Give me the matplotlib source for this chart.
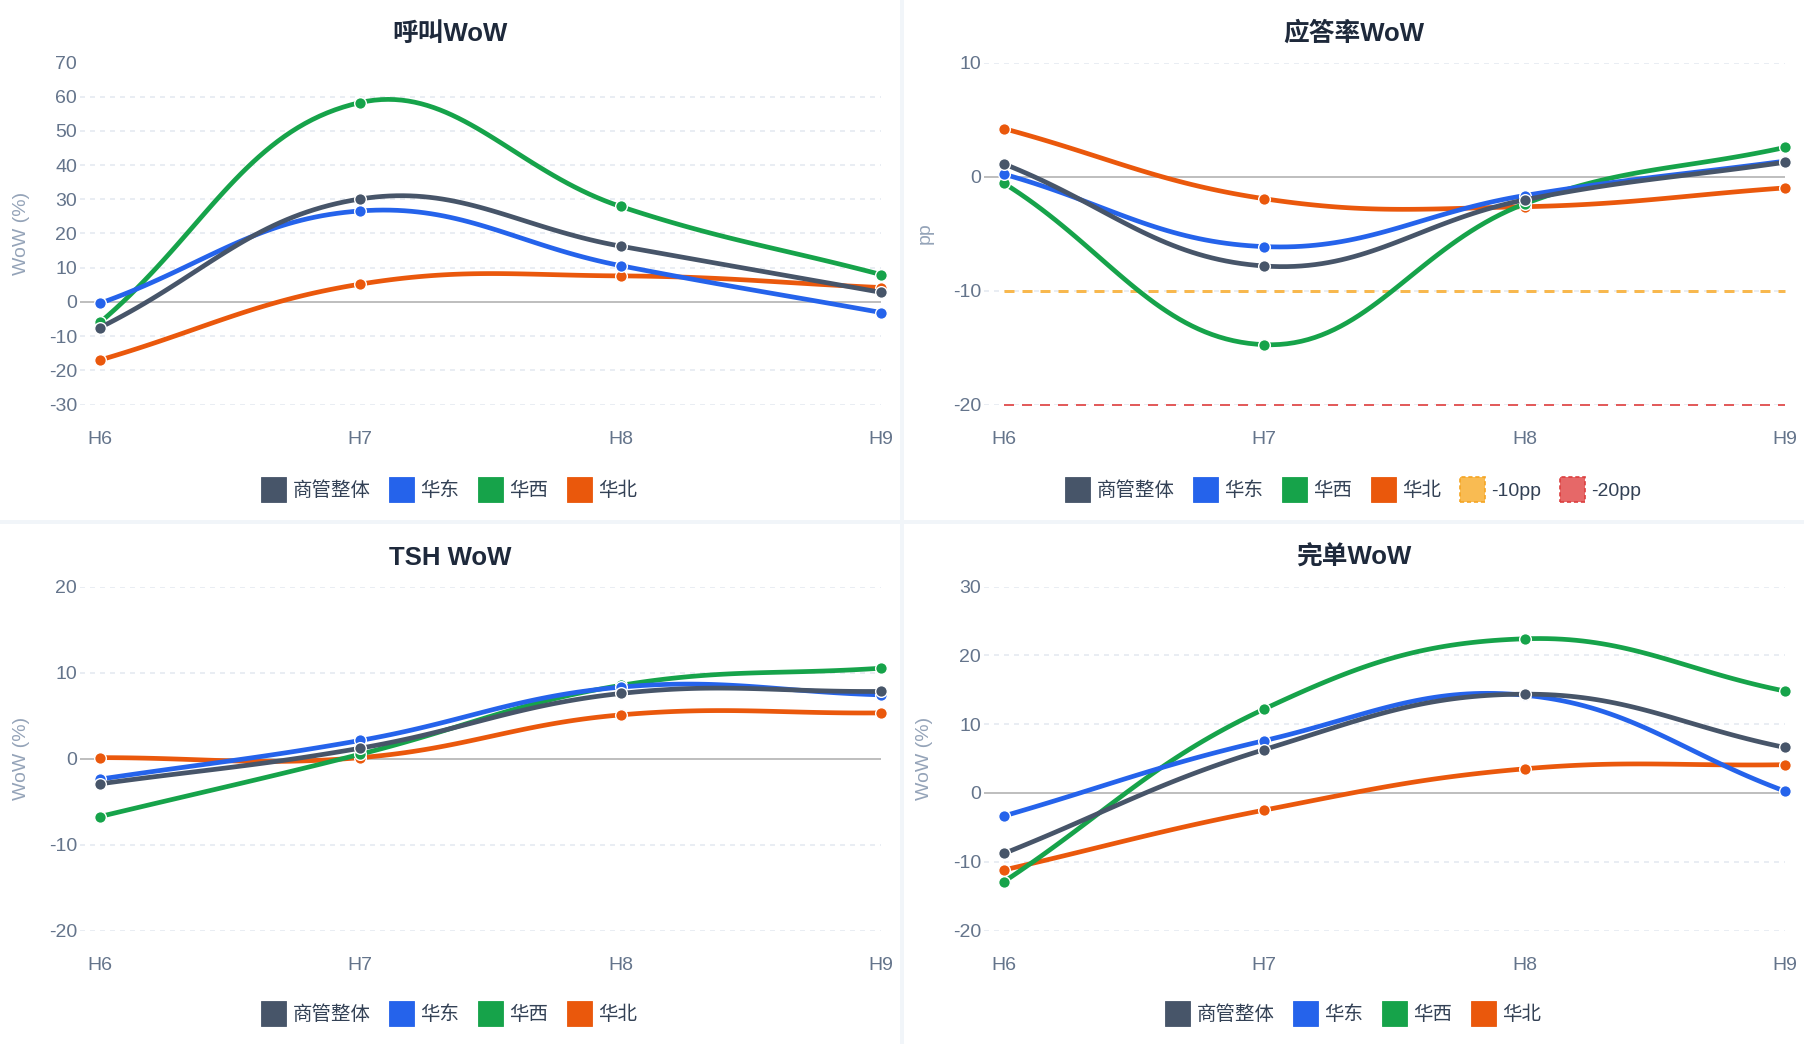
import matplotlib
matplotlib.use("Agg")
import matplotlib.pyplot as plt
from matplotlib.patches import Rectangle
import numpy as np

# ---- data ----
periods = ["H6", "H7", "H8", "H9"]
regions = ["商管整体", "华东", "华西", "华北"]
region_colors = ["#475569", "#2563eb", "#16a34a", "#ea580c"]

# 呼叫WoW (%)
call_wow = [
    [-7.5, 30.1, 16.3, 2.8],    # 商管整体
    [-0.4, 26.6, 10.6, -3.1],   # 华东
    [-6.0, 58.3, 27.9, 8.0],    # 华西
    [-17.0, 5.2, 7.6, 4.2],     # 华北
]
# 应答率WoW (pp)
answer_wow = [
    [1.1, -7.85, -2.05, 1.25],
    [0.2, -6.15, -1.67, 1.35],
    [-0.6, -14.75, -2.4, 2.55],
    [4.2, -1.95, -2.65, -1.0],
]
threshold_10 = [-10, -10, -10, -10]
threshold_20 = [-20, -20, -20, -20]
# TSH WoW (%)
tsh_wow = [
    [-2.95, 1.2, 7.56, 7.8],
    [-2.4, 2.1, 8.3, 7.4],
    [-6.75, 0.5, 8.5, 10.5],
    [0.1, 0.1, 5.07, 5.3],
]
# 完单WoW (%)
done_wow = [
    [-8.8, 6.3, 14.35, 6.6],
    [-3.35, 7.6, 14.2, 0.25],
    [-12.9, 12.2, 22.4, 14.8],
    [-11.2, -2.5, 3.5, 4.1],
]

plt.rcParams['font.family'] = ['Liberation Sans', 'Noto Sans CJK SC', 'DejaVu Sans']
plt.rcParams['lines.scale_dashes'] = False
plt.rcParams['axes.unicode_minus'] = False

W, H, DPI = 1804, 1044, 100
PX = 72.0 / DPI  # points per pixel

fig = plt.figure(figsize=(W / DPI, H / DPI), dpi=DPI, facecolor='#f1f5f9')


def to_fig(x, y):
    # pixel coords with top-left origin -> figure fraction
    return x / W, 1 - y / H


def tension_curve(ax, xs, ys, x_lo, x_hi, t=0.4, n=40):
    # Chart.js style spline (tension) done in pixel space
    pts = ax.transData.transform(np.column_stack([xs, ys]).astype(float))
    bb = ax.bbox
    m = len(pts)
    cps = []
    for i in range(m):
        cur = pts[i]
        prev = pts[i - 1] if i > 0 else cur
        nxt = pts[i + 1] if i < m - 1 else cur
        d01 = np.hypot(*(cur - prev))
        d12 = np.hypot(*(nxt - cur))
        tot = d01 + d12
        s01 = d01 / tot if tot else 0
        s12 = d12 / tot if tot else 0
        cp0 = cur - t * s01 * (nxt - prev)
        cp1 = cur + t * s12 * (nxt - prev)
        for cp in (cp0, cp1):
            cp[0] = min(max(cp[0], x_lo), x_hi)
            cp[1] = min(max(cp[1], bb.y0), bb.y1)
        cps.append((cp0, cp1))
    out = [pts[0]]
    u = np.linspace(0, 1, n)[1:, None]
    for i in range(m - 1):
        p0, p1, p2, p3 = pts[i], cps[i][1], cps[i + 1][0], pts[i + 1]
        seg = (1 - u) ** 3 * p0 + 3 * (1 - u) ** 2 * u * p1 + 3 * (1 - u) * u ** 2 * p2 + u ** 3 * p3
        out.extend(seg)
    data = ax.transData.inverted().transform(np.array(out))
    return data[:, 0], data[:, 1]


def draw_legend(cx, cy, items):
    renderer = fig.canvas.get_renderer()
    box, gap, space = 25, 7, 18
    texts, widths = [], []
    for label, fc, ec, dashed in items:
        t = fig.text(0, 0, label, fontsize=14, color='#334155', ha='left', va='baseline')
        texts.append(t)
        widths.append(t.get_window_extent(renderer).width)
    total = sum(box + gap + w for w in widths) + space * (len(items) - 1)
    x = cx - total / 2
    for (label, fc, ec, dashed), t, w in zip(items, texts, widths):
        ls = (0, (3, 2)) if dashed else '-'
        rect = Rectangle(to_fig(x, cy + box / 2), box / W, box / H, transform=fig.transFigure,
                         facecolor=fc, edgecolor=ec, lw=1.2 if dashed else 0.6, linestyle=ls)
        fig.add_artist(rect)
        t.set_position(to_fig(x + box + gap, cy + 7))
        x += box + gap + w + space


def draw_panel(px0, py0, title, series, ylabel, ylim, yticks, plot_bottom, thresholds=None):
    # white card
    fig.add_artist(Rectangle(to_fig(px0, py0 + 520), 900 / W, 520 / H, transform=fig.transFigure,
                             facecolor='white', edgecolor='none', zorder=0))
    left, h6, right = px0 + 80, px0 + 100, px0 + 881
    top, bottom = py0 + 62.5, py0 + plot_bottom
    l, b = to_fig(left, bottom)
    ax = fig.add_axes([l, b, (right - left) / W, (bottom - top) / H])
    ax.set_facecolor('none')
    step = (right - h6) / 3
    ax.set_xlim(-(h6 - left) / step, 3)
    ax.set_ylim(*ylim)
    for s in ax.spines.values():
        s.set_visible(False)
    ax.set_yticks(yticks)
    ax.set_xticks(range(len(periods)))
    ax.set_xticklabels(periods)
    ax.tick_params(axis='y', length=0, pad=3 * PX, labelsize=14, labelcolor='#64748b')
    ax.tick_params(axis='x', length=0, pad=26 * PX, labelsize=14, labelcolor='#64748b')

    for yv in yticks:
        if yv == 0:
            ax.axhline(0, color='#bfbfbf', lw=2 * PX, zorder=1)
        else:
            ax.axhline(yv, color='#e2e8f0', lw=1.5 * PX, ls=(0, (5 * PX, 5 * PX)), zorder=1)

    x = np.arange(len(periods))
    z = 3
    if thresholds:
        for vals, col, lw in reversed(thresholds):
            ax.plot(x, vals, color=col, lw=lw * PX, ls=(0, (10 * PX, 8 * PX)),
                    solid_capstyle='butt', dash_capstyle='butt', zorder=z, clip_on=False)
            z += 2
    # Chart.js draws dataset 0 last (on top)
    for vals, col in reversed(list(zip(series, region_colors))):
        cx, cy = tension_curve(ax, x, vals, h6 * 1.0, right * 1.0)
        ax.plot(cx, cy, color=col, lw=3.4, solid_capstyle='round', zorder=z, clip_on=False)
        ax.plot(x, vals, ls='none', marker='o', ms=8.4, mfc=col, mec='white', mew=1.0,
                zorder=z + 1, clip_on=False)
        z += 2

    fig.text(*to_fig(px0 + 450, py0 + 40.8), title, ha='center', va='baseline',
             fontsize=18.5, fontweight='bold', color='#1e293b')
    fig.text(*to_fig(px0 + 21, (top + bottom) / 2), ylabel, rotation=90, ha='center', va='center',
             fontsize=14, color='#94a3b8')

    items = [(name, col, col, False) for name, col in zip(regions, region_colors)]
    if thresholds:
        items += [("-10pp", '#f9bb52', '#f5a524', True), ("-20pp", '#e66868', '#dc3f3f', True)]
    draw_legend(px0 + 449, py0 + 489, items)
    return ax


draw_panel(0, 0, "呼叫WoW", call_wow, "WoW (%)", (-30, 70), list(range(-30, 71, 10)), 404.5)
draw_panel(904, 0, "应答率WoW", answer_wow, "pp", (-20, 10), [-20, -10, 0, 10], 404.5,
           thresholds=[(threshold_10, '#f8b84e', 3), (threshold_20, '#e25c5c', 2)])
draw_panel(0, 524, "TSH WoW", tsh_wow, "WoW (%)", (-20, 20), [-20, -10, 0, 10, 20], 406.5)
draw_panel(904, 524, "完单WoW", done_wow, "WoW (%)", (-20, 30), [-20, -10, 0, 10, 20, 30], 406.5)

fig.savefig("out.png", dpi=DPI, facecolor=fig.get_facecolor())
